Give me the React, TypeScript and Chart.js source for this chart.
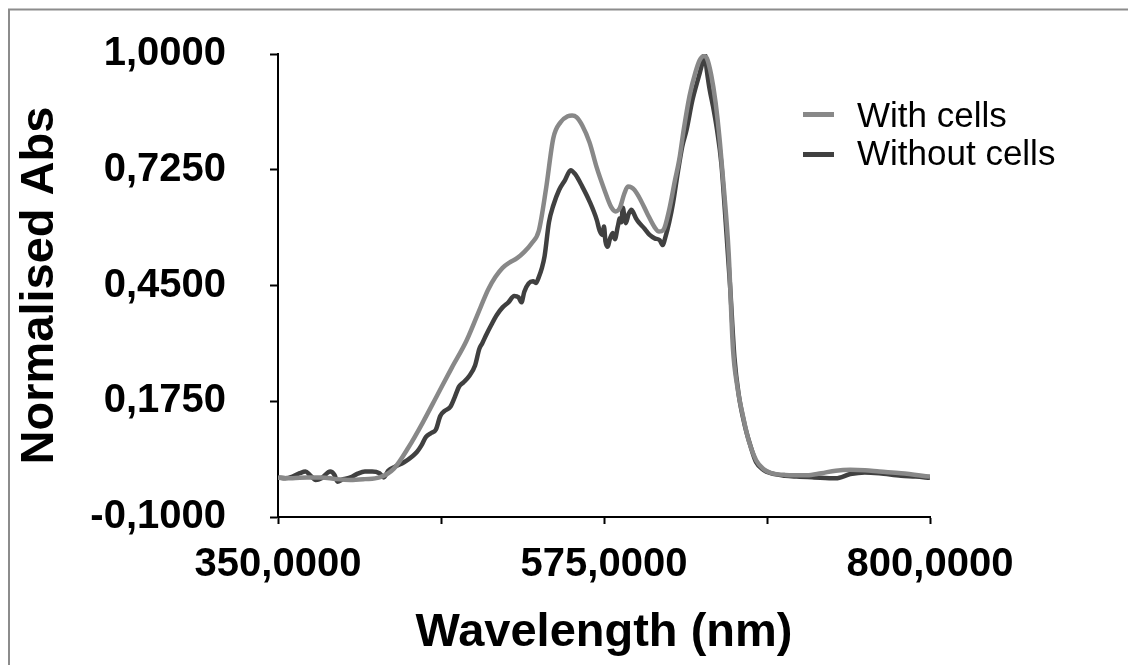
import React, { useEffect, useRef } from "react";
import { Chart, registerables } from "chart.js";

Chart.register(...registerables);

const seriesLabels = ["With cells", "Without cells"];

const wavelengthsWith = [
  350, 360, 370, 380, 390, 400, 410, 420, 430, 440, 450, 460, 470, 480, 490, 495, 500, 505, 510, 515,
  520, 525, 530, 535, 540, 545, 550, 553, 556, 560, 565, 570, 575, 580, 583, 586, 589, 591.5, 594, 596,
  600, 605, 610, 613, 616, 620, 624, 627, 630, 634, 638, 641, 644, 646, 649, 652, 655, 658, 661, 664,
  667, 671, 675, 680, 685, 690, 700, 715, 725, 735, 745, 755, 765, 780, 800,
];
const absWith = [
  -0.007, -0.008, -0.006, -0.006, -0.01, -0.012, -0.01, -0.006, 0.015, 0.065, 0.125, 0.19, 0.255, 0.318, 0.4, 0.44, 0.47, 0.492, 0.505, 0.515,
  0.53, 0.55, 0.58, 0.68, 0.8, 0.838, 0.852, 0.854, 0.85, 0.83, 0.79, 0.73, 0.68, 0.636, 0.626, 0.635, 0.668, 0.685, 0.683, 0.677,
  0.655, 0.62, 0.588, 0.578, 0.582, 0.63, 0.7, 0.75, 0.82, 0.9, 0.955, 0.985, 0.995, 0.99, 0.95, 0.885, 0.79, 0.67, 0.53, 0.3,
  0.21, 0.138, 0.08, 0.035, 0.014, 0.005, 0.0, -0.001, 0.004, 0.01, 0.012, 0.011, 0.008, 0.004, -0.004,
];

const wavelengthsWithout = [
  350, 355, 360, 365, 369, 372, 376, 380, 386, 389, 391, 395, 400, 405, 410, 415, 420, 423, 426, 431,
  437, 443, 446, 449, 452, 456, 459, 462, 465, 469, 472, 475, 478, 482, 486, 489, 491, 494, 497, 501,
  505, 509, 513, 516, 518, 520, 523, 526, 528, 530, 532, 534, 537, 540, 544, 548, 552, 555, 560, 565,
  570, 572, 574, 575, 576, 577.6, 579, 581, 582.5, 584.5, 586, 587, 588, 589, 590, 592, 594, 595, 597, 599.5,
  603, 606.5, 610, 613.4, 615.6, 617, 620, 622.6, 626, 629, 632, 636, 641, 643, 644.5, 646, 648, 650, 653, 656,
  659, 662, 665, 668, 672, 676, 680, 685, 690, 700, 708, 720, 735, 745, 755, 765, 780, 790, 800,
];
const absWithout = [
  -0.006, -0.008, -0.004, 0.004, 0.008, 0.0, -0.012, -0.008, 0.008, 0.0, -0.016, -0.01, -0.006, 0.003, 0.008, 0.008, 0.004, -0.006, 0.01, 0.02,
  0.03, 0.045, 0.055, 0.07, 0.09, 0.1, 0.108, 0.14, 0.152, 0.162, 0.185, 0.21, 0.22, 0.235, 0.26, 0.3, 0.313, 0.335, 0.355, 0.38,
  0.398, 0.41, 0.425, 0.422, 0.41, 0.435, 0.455, 0.46, 0.456, 0.47, 0.49, 0.52, 0.6, 0.64, 0.677, 0.7, 0.724, 0.715, 0.685, 0.65,
  0.606, 0.58, 0.57, 0.59, 0.555, 0.542, 0.56, 0.575, 0.56, 0.59, 0.61, 0.6, 0.635, 0.615, 0.598, 0.62, 0.63, 0.625, 0.61, 0.598,
  0.585, 0.57, 0.562, 0.558, 0.546, 0.56, 0.6, 0.645, 0.72, 0.78, 0.82, 0.89, 0.954, 0.98, 1.0, 0.96, 0.914, 0.88, 0.82, 0.74,
  0.6, 0.45, 0.28, 0.19, 0.12, 0.07, 0.03, 0.012, 0.004, -0.002, -0.004, -0.006, -0.008, 0.002, 0.006, 0.004, -0.002, -0.004, -0.007,
];

const xTickValues = [350, 462.5, 575, 687.5, 800];
const xTickLabels = ["350,0000", "", "575,0000", "", "800,0000"];
const yTickValues = [-0.1, 0.175, 0.45, 0.725, 1.0];
const yTickLabels = ["-0,1000", "0,1750", "0,4500", "0,7250", "1,0000"];

const FONT = "'Liberation Sans', Arial, sans-serif";

const frameAndLegend = {
  id: "frameAndLegend",
  beforeDraw(chart: any) {
    const ctx = chart.ctx;
    ctx.save();
    ctx.fillStyle = "#ffffff";
    ctx.fillRect(0, 0, chart.width, chart.height);
    ctx.strokeStyle = "#8c8c8c";
    ctx.lineWidth = 2;
    ctx.beginPath();
    ctx.moveTo(1, chart.height + 5);
    ctx.lineTo(1, 1.5);
    ctx.lineTo(chart.width + 5, 1.5);
    ctx.stroke();
    ctx.restore();
  },
  afterDraw(chart: any) {
    const ctx = chart.ctx;
    ctx.save();
    ctx.font = `35px ${FONT}`;
    ctx.textBaseline = "alphabetic";
    ctx.textAlign = "left";
    chart.data.datasets.forEach((ds: any, i: number) => {
      const yLine = 106.5 + i * 40;
      ctx.strokeStyle = ds.borderColor;
      ctx.lineWidth = 5;
      ctx.beginPath();
      ctx.moveTo(795, yLine);
      ctx.lineTo(826, yLine);
      ctx.stroke();
      ctx.fillStyle = "#000000";
      ctx.fillText(ds.label, 849, 119 + i * 38);
    });
    ctx.restore();
  },
};

export default function App() {
  const canvasRef = useRef<HTMLCanvasElement | null>(null);

  useEffect(() => {
    if (!canvasRef.current) return;
    const chart = new Chart(canvasRef.current, {
      type: "line",
      data: {
        datasets: [
          {
            label: seriesLabels[0],
            data: wavelengthsWith.map((x, i) => ({ x, y: absWith[i] })),
            borderColor: "#888888",
            backgroundColor: "#888888",
            borderWidth: 4.5,
            pointRadius: 0,
            cubicInterpolationMode: "monotone",
          },
          {
            label: seriesLabels[1],
            data: wavelengthsWithout.map((x, i) => ({ x, y: absWithout[i] })),
            borderColor: "#404040",
            backgroundColor: "#404040",
            borderWidth: 4.5,
            pointRadius: 0,
            cubicInterpolationMode: "monotone",
          },
        ],
      },
      options: {
        animation: false,
        responsive: true,
        maintainAspectRatio: false,
        events: [],
        layout: { padding: { left: 0, top: 46, right: 206, bottom: 0 } },
        plugins: {
          legend: { display: false },
          tooltip: { enabled: false },
        },
        scales: {
          x: {
            type: "linear",
            min: 350,
            max: 800,
            afterBuildTicks: (scale: any) => {
              scale.ticks = xTickValues.map((v) => ({ value: v }));
            },
            afterFit: (scale: any) => {
              scale.height = 148;
            },
            ticks: {
              autoSkip: false,
              maxRotation: 0,
              minRotation: 0,
              padding: 17,
              color: "#000000",
              font: { family: FONT, size: 40, weight: "bold" },
              callback: (_v: any, i: number) => xTickLabels[i],
            },
            grid: {
              display: true,
              drawOnChartArea: false,
              drawTicks: true,
              tickLength: 7,
              tickColor: "#000000",
              tickWidth: 2,
            },
            border: { display: true, color: "#000000", width: 2 },
            title: {
              display: true,
              text: "Wavelength (nm)",
              color: "#000000",
              font: { family: FONT, size: 47, weight: "bold" },
              padding: { top: 0, bottom: 4 },
            },
          },
          y: {
            type: "linear",
            min: -0.1,
            max: 1.0,
            afterBuildTicks: (scale: any) => {
              scale.ticks = yTickValues.map((v) => ({ value: v }));
            },
            afterFit: (scale: any) => {
              scale.width = 270;
              scale.paddingTop = 20;
              scale.paddingBottom = 20;
            },
            ticks: {
              autoSkip: false,
              padding: 44,
              color: "#000000",
              font: { family: FONT, size: 40, weight: "bold" },
              callback: (_v: any, i: number) => yTickLabels[i],
            },
            grid: {
              display: true,
              drawOnChartArea: false,
              drawTicks: true,
              tickLength: 8,
              tickColor: "#000000",
              tickWidth: 2,
            },
            border: { display: true, color: "#000000", width: 2 },
            title: {
              display: true,
              text: "Normalised Abs",
              color: "#000000",
              font: { family: FONT, size: 47, weight: "bold" },
              padding: { top: 4, bottom: 0 },
            },
          },
        },
      },
      plugins: [frameAndLegend],
    } as any);
    return () => chart.destroy();
  }, []);

  return (
    <div style={{ width: "1128px", height: "657px", position: "relative" }}>
      <canvas ref={canvasRef} />
    </div>
  );
}
